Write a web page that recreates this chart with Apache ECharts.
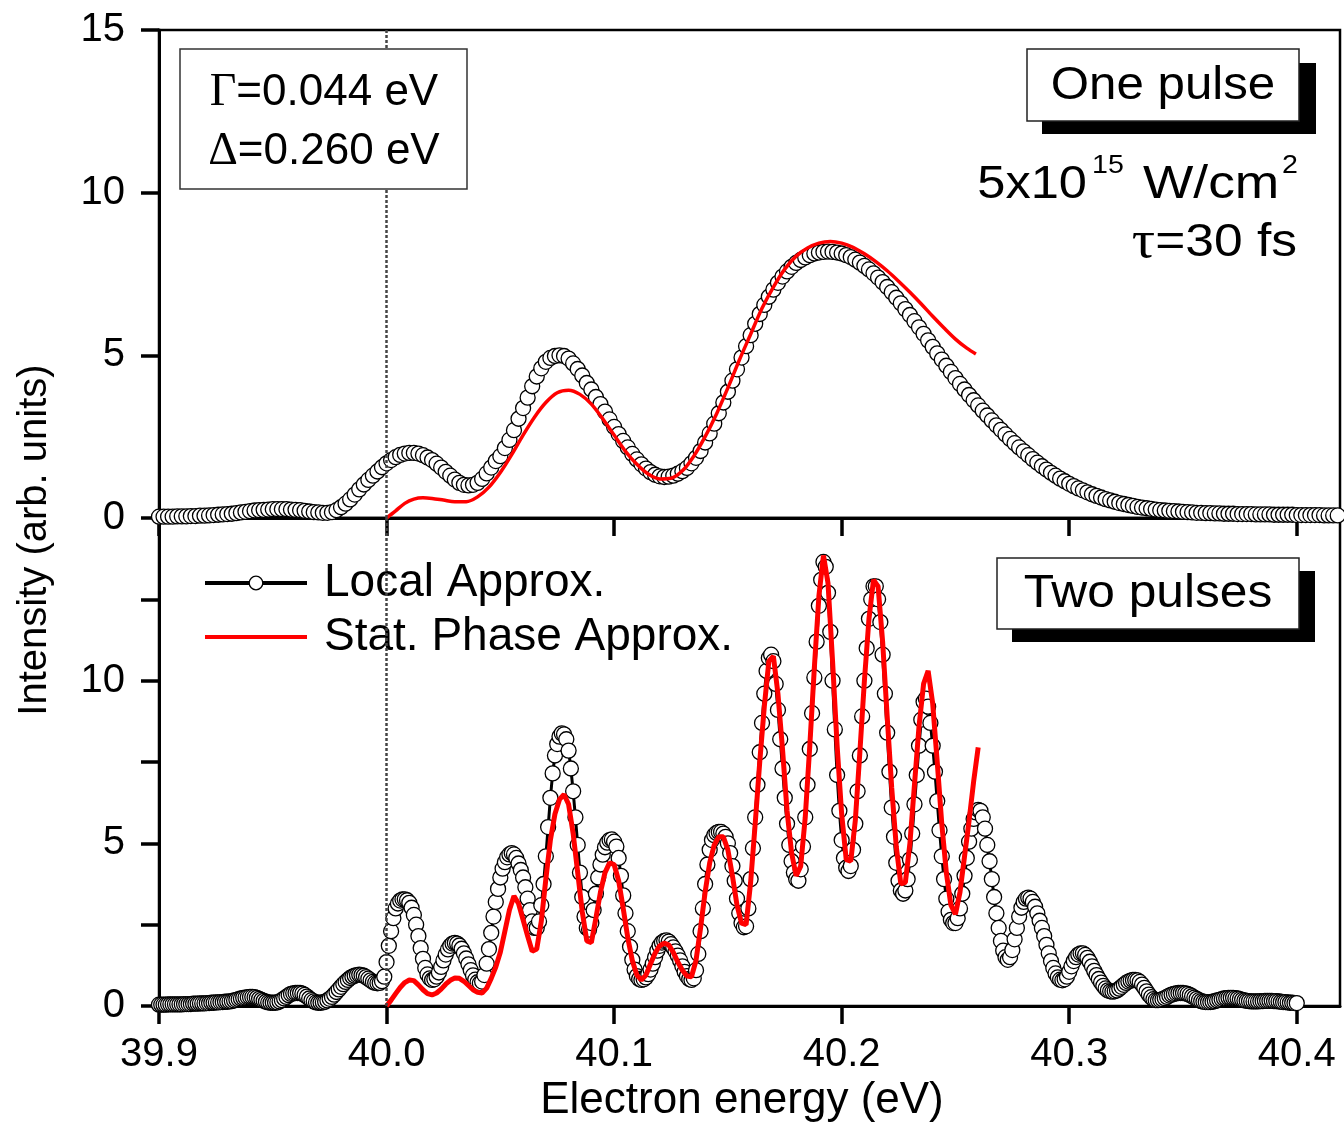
<!DOCTYPE html>
<html><head><meta charset="utf-8">
<script src="https://cdn.jsdelivr.net/npm/echarts@6/dist/echarts.min.js"></script>
<style>html,body{margin:0;padding:0;background:#fff}#c{width:1344px;height:1124px}</style>
</head><body><div id="c"></div><script>
const FONT = "'Liberation Sans', Arial, sans-serif";
const xTicks = [39.9, 40.0, 40.1, 40.2, 40.3, 40.4];
const yTicksTop = [0, 5, 10, 15];
const yLabelsBottom = [0, 5, 10];
const yTicksBottom = [0, 2.5, 5, 7.5, 10, 12.5];

// One pulse, Local Approx. (circles), energies 39.900 .. 40.420 every 0.002 eV
const topLocalStart = 39.9, topLocalStep = 0.002;
const topLocal = [
0.04,0.04,0.04,0.04,0.05, 0.05,0.05,0.06,0.06,0.07,
0.07,0.08,0.09,0.10,0.11, 0.12,0.13,0.15,0.17,0.19,
0.21,0.23,0.24,0.25,0.26, 0.27,0.27,0.27,0.27,0.26,
0.25,0.24,0.22,0.20,0.18, 0.17,0.16,0.16,0.18,0.24,
0.33,0.44,0.57,0.72,0.88, 1.03,1.17,1.30,1.43,1.56,
1.68,1.78,1.87,1.94,1.98, 2.00,2.00,1.98,1.93,1.86,
1.78,1.67,1.55,1.42,1.30, 1.18,1.08,1.02,1.00,1.02,
1.08,1.20,1.37,1.55,1.75, 1.90,2.15,2.40,2.70,3.05,
3.38,3.70,4.05,4.35,4.60, 4.80,4.92,4.98,5.00,4.98,
4.90,4.75,4.58,4.38,4.15, 3.95,3.72,3.50,3.27,3.03,
2.80,2.58,2.37,2.17,1.97, 1.80,1.65,1.52,1.41,1.33,
1.28,1.26,1.27,1.30,1.36, 1.44,1.54,1.68,1.85,2.06,
2.32,2.60,2.90,3.22,3.55, 3.88,4.22,4.57,4.93,5.28,
5.62,5.97,6.27,6.55,6.80, 7.02,7.23,7.42,7.58,7.72,
7.84,7.93,8.01,8.08,8.13, 8.16,8.18,8.19,8.18,8.16,
8.13,8.08,8.02,7.94,7.85, 7.75,7.64,7.52,7.39,7.25,
7.10,6.94,6.77,6.60,6.42, 6.24,6.05,5.86,5.66,5.46,
5.26,5.06,4.87,4.68,4.49, 4.30,4.12,3.95,3.78,3.62,
3.46,3.30,3.15,3.00,2.85, 2.71,2.57,2.43,2.30,2.17,
2.05,1.93,1.81,1.70,1.59, 1.49,1.39,1.30,1.21,1.13,
1.05,0.98,0.91,0.85,0.79, 0.73,0.68,0.63,0.58,0.54,
0.50,0.46,0.43,0.40,0.37, 0.34,0.32,0.30,0.28,0.26,
0.24,0.23,0.22,0.21,0.20, 0.19,0.18,0.17,0.16,0.16,
0.15,0.15,0.14,0.14,0.13, 0.13,0.13,0.12,0.12,0.12,
0.12,0.11,0.11,0.11,0.11, 0.10,0.10,0.10,0.10,0.10,
0.09,0.09,0.09,0.09,0.09, 0.09,0.08,0.08,0.08,0.08,
0.08
];

// One pulse, Stat. Phase Approx. (red line)
const topStatE = [40.000,40.004,40.008,40.012,40.016,40.020,40.025,40.030,40.035,40.040,40.045,40.050,40.055,40.060,40.065,40.070,40.075,40.080,40.085,40.090,40.095,40.100,40.105,40.110,40.115,40.120,40.125,40.130,40.135,40.140,40.145,40.150,40.155,40.160,40.165,40.170,40.175,40.180,40.185,40.190,40.195,40.200,40.205,40.210,40.215,40.220,40.225,40.230,40.235,40.240,40.245,40.250,40.255,40.259];
const topStatI = [0,0.22,0.45,0.58,0.62,0.60,0.55,0.50,0.50,0.65,0.95,1.40,1.95,2.55,3.10,3.55,3.85,3.93,3.80,3.50,3.05,2.55,2.05,1.65,1.35,1.20,1.22,1.45,1.90,2.50,3.20,4.00,4.85,5.65,6.45,7.10,7.65,8.05,8.30,8.45,8.50,8.45,8.32,8.12,7.88,7.60,7.28,6.94,6.58,6.20,5.84,5.50,5.22,5.04];

// Two pulses, Local Approx. (circles), energies 39.900 .. 40.400 every 0.001 eV
const botLocalStart = 39.9, botLocalStep = 0.001;
const botLocal = [
0.04,0.04,0.04,0.04,0.05,0.05,0.05,0.05,0.05,0.05,
0.05,0.06,0.06,0.06,0.06,0.07,0.07,0.07,0.08,0.08,
0.08,0.09,0.09,0.10,0.10,0.11,0.11,0.12,0.12,0.13,
0.13,0.14,0.15,0.17,0.19,0.21,0.23,0.25,0.26,0.27,
0.28,0.28,0.27,0.25,0.22,0.19,0.16,0.13,0.11,0.10,
0.10,0.10,0.11,0.14,0.18,0.23,0.28,0.33,0.37,0.39,
0.40,0.40,0.40,0.38,0.34,0.29,0.23,0.18,0.14,0.11,
0.10,0.10,0.11,0.13,0.17,0.22,0.28,0.35,0.43,0.51,
0.59,0.67,0.74,0.80,0.86,0.90,0.93,0.95,0.96,0.95,
0.93,0.89,0.84,0.79,0.74,0.71,0.70,0.71,0.76,0.90,
1.35,1.85,2.30,2.70,3.00,3.15,3.24,3.28,3.28,3.25,
3.17,3.02,2.80,2.50,2.15,1.78,1.45,1.17,0.97,0.85,
0.80,0.82,0.90,1.03,1.20,1.40,1.58,1.74,1.85,1.92,
1.94,1.92,1.86,1.76,1.62,1.46,1.28,1.10,0.94,0.81,
0.73,0.70,0.75,0.95,1.30,1.75,2.25,2.75,3.20,3.60,
3.95,4.22,4.42,4.57,4.66,4.70,4.66,4.55,4.38,4.18,
3.95,3.65,3.30,2.95,2.60,2.40,2.40,2.60,3.10,3.75,
4.60,5.50,6.40,7.15,7.70,8.05,8.28,8.38,8.35,8.20,
7.85,7.30,6.60,5.80,4.95,4.10,3.35,2.75,2.40,2.35,
2.55,2.95,3.45,3.95,4.35,4.65,4.88,5.02,5.10,5.12,
5.05,4.90,4.55,4.00,3.40,2.85,2.30,1.82,1.42,1.12,
0.92,0.83,0.80,0.82,0.88,0.98,1.12,1.30,1.50,1.70,
1.85,1.95,2.00,2.02,1.98,1.90,1.80,1.68,1.55,1.40,
1.22,1.05,0.92,0.83,0.80,0.85,1.10,1.60,2.30,3.00,
3.75,4.35,4.80,5.10,5.25,5.32,5.35,5.35,5.30,5.20,
5.00,4.70,4.30,3.85,3.30,2.85,2.55,2.42,2.45,3.00,
3.90,4.85,5.80,6.80,7.80,8.70,9.60,10.30,10.70,10.80,
10.60,9.90,9.10,8.20,7.30,6.40,5.60,4.95,4.45,4.10,
3.90,3.85,4.20,4.90,5.80,6.80,7.90,9.00,10.10,11.20,
12.30,13.10,13.65,13.50,12.70,11.50,10.00,8.50,7.10,6.00,
5.10,4.55,4.25,4.15,4.30,4.80,5.60,6.60,7.70,8.90,
10.00,11.00,11.90,12.50,12.90,12.90,12.50,11.80,10.80,9.60,
8.40,7.20,6.10,5.20,4.40,3.85,3.55,3.45,3.55,3.90,
4.50,5.30,6.20,7.10,8.00,8.80,9.35,9.45,9.20,8.70,
8.00,7.20,6.30,5.40,4.60,3.90,3.30,2.90,2.65,2.55,
2.55,2.70,3.00,3.45,4.00,4.55,5.05,5.45,5.75,5.95,
6.03,6.00,5.80,5.45,4.95,4.45,3.90,3.35,2.85,2.40,
2.00,1.70,1.50,1.42,1.50,1.72,2.05,2.40,2.75,3.02,
3.20,3.30,3.33,3.30,3.20,3.05,2.85,2.62,2.40,2.15,
1.88,1.62,1.38,1.17,1.00,0.88,0.81,0.79,0.82,0.90,
1.05,1.22,1.38,1.50,1.58,1.62,1.62,1.57,1.48,1.36,
1.22,1.08,0.95,0.83,0.72,0.62,0.54,0.48,0.45,0.44,
0.45,0.48,0.53,0.59,0.65,0.71,0.75,0.78,0.80,0.80,
0.79,0.74,0.66,0.56,0.45,0.35,0.27,0.21,0.18,0.18,
0.19,0.21,0.24,0.28,0.32,0.35,0.37,0.39,0.40,0.40,
0.40,0.39,0.37,0.34,0.30,0.26,0.22,0.18,0.15,0.13,
0.12,0.12,0.12,0.13,0.15,0.17,0.19,0.21,0.23,0.24,
0.25,0.25,0.25,0.24,0.23,0.21,0.19,0.17,0.16,0.15,
0.14,0.14,0.14,0.14,0.15,0.15,0.16,0.16,0.16,0.16,
0.15,0.15,0.14,0.13,0.12,0.12,0.11,0.10,0.10,0.09,
0.09
];

// Two pulses, Stat. Phase Approx. (red line), energies 40.000 .. 40.260 every 0.002 eV
const botStatStart = 40.0, botStatStep = 0.002;
const botStat = [
0.00,0.18,0.38,0.57,0.72, 0.80,0.78,0.65,0.50,0.38,
0.34,0.40,0.52,0.67,0.79, 0.86,0.85,0.76,0.63,0.50,
0.42,0.40,0.55,0.85,1.20, 1.65,2.30,2.95,3.38,3.15,
2.65,2.15,1.68,1.75,2.60, 3.90,5.10,5.90,6.35,6.50,
6.20,5.30,4.10,2.90,2.00, 1.95,2.70,3.50,4.10,4.40,
4.35,3.85,3.00,2.10,1.40, 0.95,0.80,0.95,1.30,1.62,
1.85,1.93,1.88,1.65,1.35, 1.10,0.92,0.90,1.40,2.40,
3.50,4.40,4.95,5.20,5.20, 4.80,4.00,3.10,2.55,2.50,
3.80,5.60,7.50,9.20,10.60, 10.75,9.60,7.90,6.00,4.70,
4.00,4.30,5.80,8.00,10.40, 12.60,13.85,13.00,10.60,8.00,
5.90,4.50,4.45,5.70,7.80, 10.00,11.90,13.10,12.90,11.20,
8.90,6.70,4.90,3.75,3.80, 5.00,6.80,8.60,9.90,10.30,
9.30,7.50,5.60,4.10,3.10, 2.82,3.50,4.60,5.70,6.90,
7.95
];

function grid(start, step, arr) {
  return arr.map((v, i) => [+(start + i * step).toFixed(4), v]);
}

const chart = echarts.init(document.getElementById('c'), null, {renderer: 'canvas'});

const circleStyle = {color: '#fff', borderColor: '#000', borderWidth: 1.3};
const vLine = {
  silent: true, symbol: ['none', 'none'], label: {show: false},
  lineStyle: {color: '#444', type: [3, 2], width: 2.5},
  data: [{xAxis: 40.0}], animation: false
};

function xAxisCfg(idx, labels) {
  return {
    gridIndex: idx, type: 'value', min: 39.9, max: 40.419,
    axisLine: {show: true, onZero: false, lineStyle: {color: '#000', width: 3}},
    axisTick: {show: true, inside: false, length: 18, customValues: xTicks, lineStyle: {color: '#000', width: 3.5}},
    axisLabel: {show: labels, customValues: xTicks, formatter: v => v.toFixed(1), fontSize: 40, fontFamily: FONT, color: '#000', margin: 29},
    splitLine: {show: false}
  };
}
function yAxisCfg(idx, ticks, labels) {
  return {
    gridIndex: idx, type: 'value', min: 0, max: 15,
    axisLine: {show: true, onZero: false, lineStyle: {color: '#000', width: 3}},
    axisTick: {show: true, inside: false, length: 18, customValues: ticks, lineStyle: {color: '#000', width: 3.5}},
    axisLabel: {show: true, customValues: labels, fontSize: 40, fontFamily: FONT, color: '#000', margin: 34},
    splitLine: {show: false}
  };
}

const txt = (x, y, text, size, align, extra, sx) => ({
  type: 'text', x: x, y: y, z: 100, scaleX: sx || 1,
  style: Object.assign({text: text, fontSize: size, fontFamily: FONT, fill: '#000', align: align, verticalAlign: 'middle'}, extra || {})
});
const rect = (x, y, w, h, fill, stroke) => ({
  type: 'rect', z: 99, shape: {x: x, y: y, width: w, height: h},
  style: {fill: fill, stroke: stroke || null, lineWidth: stroke ? 1.5 : 0}
});
const serifRich = size => ({rich: {g: {fontFamily: "'Liberation Serif', serif", fontSize: size}}});

chart.setOption({
  animation: false,
  backgroundColor: '#fff',
  grid: [
    {left: 159, top: 30, width: 1181, height: 488, show: true, borderColor: '#000', borderWidth: 2.5, backgroundColor: 'transparent'},
    {left: 159, top: 518, width: 1181, height: 488, show: true, borderColor: '#000', borderWidth: 2.5, backgroundColor: 'transparent'}
  ],
  xAxis: [xAxisCfg(0, false), xAxisCfg(1, true)],
  yAxis: [yAxisCfg(0, yTicksTop, yTicksTop), yAxisCfg(1, yTicksBottom, yLabelsBottom)],
  legend: {
    orient: 'vertical', left: 193, top: 557, itemWidth: 102, itemHeight: 17, itemGap: 8,
    padding: [3, 10, 15, 10], backgroundColor: '#fff', selectedMode: false,
    textStyle: {fontSize: 46, fontFamily: FONT, color: '#000', lineHeight: 45, padding: [0, 0, 0, 12]},
    data: [
      {name: 'Local Approx.', lineStyle: {width: 4, color: '#000'}, itemStyle: {color: '#fff', borderColor: '#000', borderWidth: 1.3}},
      {name: 'Stat. Phase Approx.', lineStyle: {width: 4, color: '#ff0000'}, itemStyle: {opacity: 0}}
    ]
  },
  series: [
    {name: 'Local Approx.', type: 'line', xAxisIndex: 0, yAxisIndex: 0, data: grid(topLocalStart, topLocalStep, topLocal),
     symbol: 'circle', symbolSize: 15, itemStyle: circleStyle, lineStyle: {color: '#000', width: 3},
     emphasis: {disabled: true}, markLine: vLine, clip: true, z: 2},
    {name: 'Stat. Phase Approx.', type: 'line', xAxisIndex: 0, yAxisIndex: 0, data: topStatE.map((e, i) => [e, topStatI[i]]),
     smooth: 0.3, showSymbol: false, symbol: 'none', lineStyle: {color: '#ff0000', width: 3.5}, itemStyle: {color: '#ff0000'},
     emphasis: {disabled: true}, z: 3},
    {name: 'Local Approx.', type: 'line', xAxisIndex: 1, yAxisIndex: 1, data: grid(botLocalStart, botLocalStep, botLocal),
     symbol: 'circle', symbolSize: 15, itemStyle: circleStyle, lineStyle: {color: '#000', width: 3},
     emphasis: {disabled: true}, markLine: vLine, clip: true, z: 2},
    {name: 'Stat. Phase Approx.', type: 'line', xAxisIndex: 1, yAxisIndex: 1, data: grid(botStatStart, botStatStep, botStat),
     showSymbol: false, symbol: 'none', lineStyle: {color: '#ff0000', width: 5}, itemStyle: {color: '#ff0000'},
     emphasis: {disabled: true}, z: 3}
  ],
  graphic: [
    rect(180, 49, 287, 140, '#fff', '#333'),
    txt(324, 93, '{g|Γ}=0.044 eV', 44, 'center', serifRich(46)),
    txt(324, 152, '{g|Δ}=0.260 eV', 44, 'center', serifRich(46)),
    rect(1042, 63, 274, 71, '#000'),
    rect(1027, 49, 272, 72, '#fff', '#222'),
    txt(1163, 86, 'One pulse', 46, 'center', null, 1.07),
    txt(1087, 185, '5x10', 46, 'right', null, 1.1),
    txt(1092, 166, '15', 26, 'left', null, 1.1),
    txt(1143, 185, 'W/cm', 46, 'left', null, 1.16),
    txt(1282, 166, '2', 26, 'left', null, 1.1),
    txt(1297, 243, '{g|τ}=30 fs', 46, 'right', serifRich(52), 1.12),
    rect(1012, 571, 303, 71, '#000'),
    rect(997, 558, 302, 71, '#fff', '#222'),
    txt(1148, 594, 'Two pulses', 46, 'center', null, 1.08),
    txt(742, 1101, 'Electron energy (eV)', 44, 'center'),
    Object.assign(txt(35, 540, 'Intensity (arb. units)', 40, 'center'), {rotation: Math.PI / 2})
  ]
});
</script></body></html>
